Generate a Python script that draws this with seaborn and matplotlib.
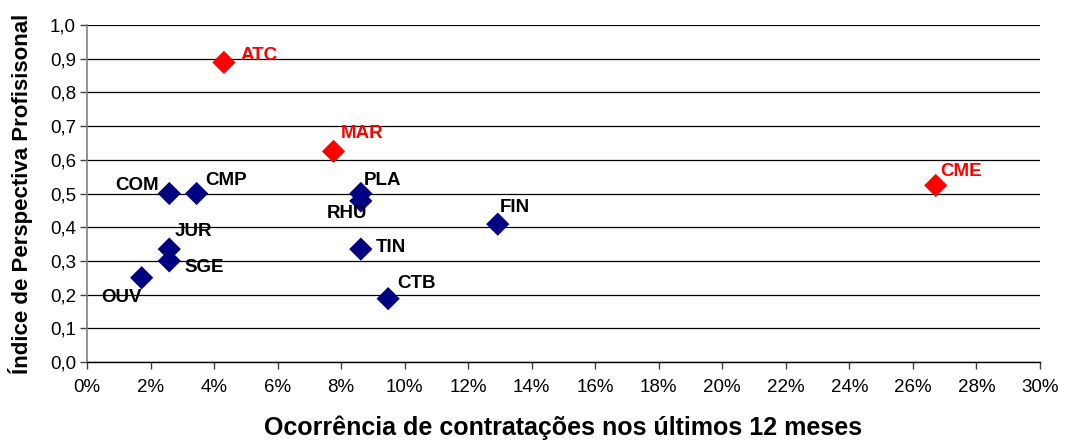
import numpy as np
import pandas as pd
import matplotlib
matplotlib.use("Agg")
import matplotlib.pyplot as plt
import seaborn as sns
from matplotlib.ticker import PercentFormatter, FuncFormatter, MultipleLocator

# data
siglas = ['ATC', 'MAR', 'CME', 'COM', 'CMP', 'PLA', 'RHU', 'FIN', 'JUR', 'SGE', 'OUV', 'TIN', 'CTB']
contratacoes = [4.31, 7.76, 26.72, 2.59, 3.45, 8.62, 8.62, 12.93, 2.59, 2.59, 1.72, 8.62, 9.48]
indice = [0.889, 0.625, 0.524, 0.5, 0.5, 0.5, 0.478, 0.409, 0.335, 0.30, 0.25, 0.335, 0.188]
grupo = ['destaque', 'destaque', 'destaque', 'normal', 'normal', 'normal', 'normal',
         'normal', 'normal', 'normal', 'normal', 'normal', 'normal']

cores = {'destaque': '#FF0000', 'normal': '#000080'}
cores_texto = {'destaque': '#FF0000', 'normal': '#000000'}

# label offsets in pixels (dx, dy, ha)
offsets = {
    'ATC': (17, 7, 'left'), 'MAR': (7, 18, 'left'), 'CME': (4, 14, 'left'),
    'COM': (-10, 8, 'right'), 'CMP': (9, 13, 'left'), 'PLA': (3, 13, 'left'),
    'RHU': (6, -13, 'right'), 'FIN': (2, 17, 'left'), 'JUR': (5, 18, 'left'),
    'SGE': (15, -7, 'left'), 'OUV': (0, -20, 'right'), 'TIN': (15, 2, 'left'),
    'CTB': (9, 15, 'left'),
}

df = pd.DataFrame({'sigla': siglas, 'x': contratacoes, 'y': indice, 'grupo': grupo})

sns.set_style("white")
plt.rcParams['font.family'] = ['Liberation Sans', 'DejaVu Sans']
plt.rcParams['text.color'] = 'black'
plt.rcParams['axes.labelcolor'] = 'black'

fig, ax = plt.subplots(figsize=(10.77, 4.43), dpi=100)
fig.subplots_adjust(left=0.0808, right=0.9656, top=0.9436, bottom=0.1828)

ax.yaxis.grid(True, color='#000000', linewidth=0.9)
ax.set_axisbelow(True)

sns.scatterplot(data=df, x='x', y='y', hue='grupo', palette=cores, marker='D',
                s=140, linewidth=0, legend=False, ax=ax, zorder=3)

for _, r in df.iterrows():
    dx, dy, ha = offsets[r['sigla']]
    ax.annotate(r['sigla'], (r['x'], r['y']), xytext=(dx, dy), textcoords='offset pixels',
                ha=ha, va='center', fontsize=13.5, fontweight='bold',
                color=cores_texto[r['grupo']], zorder=4)

ax.set_xlim(0, 30)
ax.set_ylim(0, 1.0)
ax.xaxis.set_major_locator(MultipleLocator(2))
ax.yaxis.set_major_locator(MultipleLocator(0.1))
ax.xaxis.set_major_formatter(PercentFormatter(xmax=100, decimals=0))
ax.yaxis.set_major_formatter(FuncFormatter(lambda v, p: f"{v:.1f}".replace('.', ',')))

for s in ['top', 'right']:
    ax.spines[s].set_visible(False)
ax.spines['left'].set_color('#808080')
ax.spines['left'].set_linewidth(1.2)
ax.spines['bottom'].set_color('#000000')
ax.spines['bottom'].set_linewidth(1.0)

ax.tick_params(axis='both', which='major', direction='out', length=5, width=1,
               color='#404040', labelsize=13.5, labelcolor='black', bottom=True, left=True)
ax.tick_params(axis='x', pad=7)
ax.tick_params(axis='y', pad=3)

ax.set_xlabel('Ocorrência de contratações nos últimos 12 meses', fontsize=18,
              fontweight='bold', labelpad=14)
ax.set_ylabel('Índice de Perspectiva Profisisonal', fontsize=16, fontweight='bold',
              labelpad=12)

plt.savefig('out.png', dpi=100)
